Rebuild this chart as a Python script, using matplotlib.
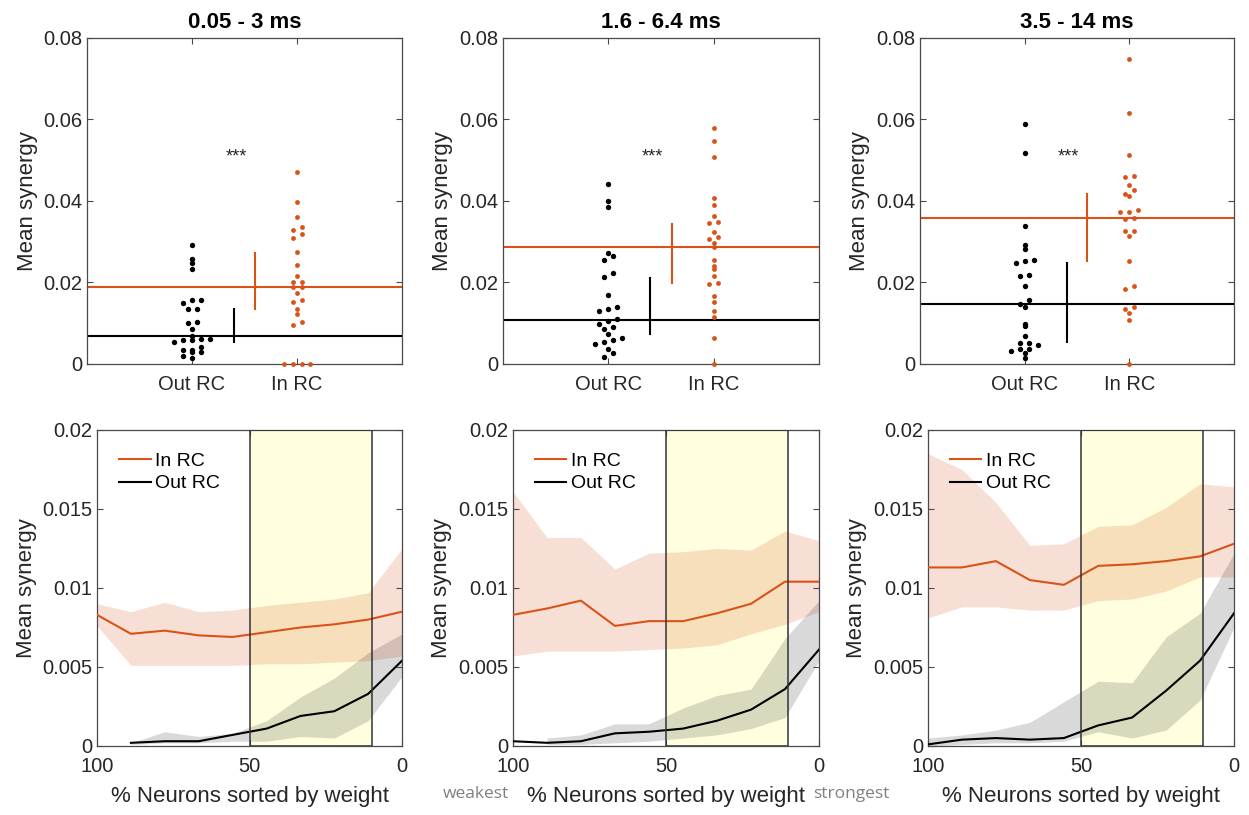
import numpy as np
import matplotlib
matplotlib.use('Agg')
import matplotlib.pyplot as plt
from matplotlib.patches import Rectangle

plt.rcParams['font.family'] = ['Liberation Sans', 'DejaVu Sans']

# ---------------- data ----------------
titles = ['0.05 - 3 ms', '1.6 - 6.4 ms', '3.5 - 14 ms']
groups = ['Out RC', 'In RC']

out_vals = [
    [0.0291, 0.0258, 0.0249, 0.0233, 0.0158, 0.0157, 0.0149, 0.0136, 0.0134, 0.0102,
     0.0100, 0.0087, 0.0068, 0.0061, 0.0061, 0.0060, 0.0060, 0.0055, 0.0041, 0.0035,
     0.0034, 0.0029, 0.0029, 0.0020, 0.0014],
    [0.0442, 0.0400, 0.0385, 0.0272, 0.0265, 0.0256, 0.0223, 0.0213, 0.0170, 0.0140,
     0.0136, 0.0130, 0.0110, 0.0106, 0.0098, 0.0090, 0.0087, 0.0073, 0.0063, 0.0059,
     0.0054, 0.0050, 0.0036, 0.0026, 0.0016],
    [0.0588, 0.0518, 0.0338, 0.0293, 0.0281, 0.0254, 0.0252, 0.0249, 0.0218, 0.0215,
     0.0192, 0.0156, 0.0147, 0.0139, 0.0097, 0.0093, 0.0068, 0.0052, 0.0051, 0.0046,
     0.0036, 0.0036, 0.0032, 0.0028, 0.0015],
]
in_vals = [
    [0.0470, 0.0398, 0.0361, 0.0335, 0.0330, 0.0318, 0.0308, 0.0275, 0.0242, 0.0216,
     0.0202, 0.0201, 0.0190, 0.0188, 0.0173, 0.0158, 0.0152, 0.0136, 0.0123, 0.0102,
     0.0096, 0.0, 0.0, 0.0, 0.0],
    [0.0578, 0.0547, 0.0508, 0.0407, 0.0389, 0.0364, 0.0349, 0.0345, 0.0323, 0.0311,
     0.0306, 0.0296, 0.0287, 0.0256, 0.0240, 0.0233, 0.0217, 0.0198, 0.0197, 0.0167,
     0.0153, 0.0129, 0.0116, 0.0063, 0.0],
    [0.0749, 0.0615, 0.0513, 0.0461, 0.0458, 0.0438, 0.0426, 0.0416, 0.0412, 0.0378,
     0.0374, 0.0372, 0.0359, 0.0356, 0.0326, 0.0326, 0.0313, 0.0252, 0.0191, 0.0185,
     0.0139, 0.0136, 0.0126, 0.0108, 0.0],
]
out_center = [0.0068, 0.0109, 0.0147]
out_err_lo = [0.0055, 0.0074, 0.0053]
out_err_hi = [0.0135, 0.0212, 0.0247]
in_center = [0.0190, 0.0287, 0.0359]
in_err_lo = [0.0136, 0.0198, 0.0253]
in_err_hi = [0.0273, 0.0344, 0.0416]
top_yticks = [0, 0.02, 0.04, 0.06, 0.08]
top_yticklabels = ['0', '0.02', '0.04', '0.06', '0.08']

pct = [100, 88.9, 77.8, 66.7, 55.6, 44.4, 33.3, 22.2, 11.1, 0]
nan = np.nan
in_mean = [
    [0.0083, 0.0071, 0.0073, 0.0070, 0.0069, 0.0072, 0.0075, 0.0077, 0.0080, 0.0085],
    [0.0083, 0.0087, 0.0092, 0.0076, 0.0079, 0.0079, 0.0084, 0.0090, 0.0104, 0.0104],
    [0.0113, 0.0113, 0.0117, 0.0105, 0.0102, 0.0114, 0.0115, 0.0117, 0.0120, 0.0128],
]
in_hi = [
    [0.0090, 0.0085, 0.0091, 0.0085, 0.0086, 0.0089, 0.0091, 0.0093, 0.0097, 0.0125],
    [0.0161, 0.0132, 0.0132, 0.0112, 0.0122, 0.0123, 0.0125, 0.0124, 0.0136, 0.0130],
    [0.0185, 0.0175, 0.0154, 0.0127, 0.0128, 0.0139, 0.0140, 0.0151, 0.0166, 0.0164],
]
in_lo = [
    [0.0076, 0.0051, 0.0051, 0.0051, 0.0051, 0.0052, 0.0052, 0.0053, 0.0054, 0.0057],
    [0.0057, 0.0060, 0.0060, 0.0060, 0.0061, 0.0062, 0.0064, 0.0071, 0.0077, 0.0085],
    [0.0081, 0.0088, 0.0088, 0.0086, 0.0086, 0.0092, 0.0093, 0.0098, 0.0107, 0.0107],
]
out_mean = [
    [nan, 0.0002, 0.0003, 0.0003, 0.0007, 0.0011, 0.0019, 0.0022, 0.0033, 0.0054],
    [0.0003, 0.0002, 0.0003, 0.0008, 0.0009, 0.0011, 0.0016, 0.0023, 0.0036, 0.0061],
    [0.0001, 0.0004, 0.0005, 0.0004, 0.0005, 0.0013, 0.0018, 0.0035, 0.0054, 0.0084],
]
out_hi = [
    [nan, 0.0002, 0.0009, 0.0006, 0.0008, 0.0016, 0.0031, 0.0043, 0.0059, 0.0071],
    [nan, 0.0005, 0.0007, 0.0014, 0.0014, 0.0024, 0.0032, 0.0036, 0.0068, 0.0092],
    [0.0005, 0.0007, 0.0010, 0.0015, 0.0028, 0.0041, 0.0040, 0.0069, 0.0084, 0.0122],
]
out_lo = [
    [nan, 0.0001, 0.0002, 0.0002, 0.0003, 0.0003, 0.0006, 0.0005, 0.0016, 0.0044],
    [nan, 0.0001, 0.0001, 0.0002, 0.0003, 0.0005, 0.0007, 0.0011, 0.0018, 0.0054],
    [0.0000, 0.0001, 0.0002, 0.0002, 0.0003, 0.0009, 0.0005, 0.0010, 0.0029, 0.0075],
]
highlight_range = (10, 50)
bot_yticks = [0, 0.005, 0.01, 0.015, 0.02]
bot_yticklabels = ['0', '0.005', '0.01', '0.015', '0.02']
bot_xticks = [100, 50, 0]
bot_xticklabels = ['100', '50', '0']

# ---------------- style ----------------
ORANGE = '#D95319'
BLACK = '#000000'
SPINE = '#4a4a4a'
TXT = '#262626'


def style_axes(ax):
    for s in ax.spines.values():
        s.set_color(SPINE)
        s.set_linewidth(0.9)
    ax.tick_params(direction='in', top=True, right=True, length=4, width=0.8,
                   color=SPINE, labelsize=14.5, labelcolor=TXT)
    ax.tick_params(axis='x', pad=8)
    ax.tick_params(axis='y', pad=3.5)


def swarm(vals, center, binw=0.0016, d=0.085):
    v = np.asarray(vals, float)
    x = np.full(len(v), float(center))
    b = np.floor(v / binw + 1e-9).astype(int)
    for k in np.unique(b):
        idx = np.where(b == k)[0]
        idx = idx[np.argsort(v[idx])]
        n = len(idx)
        x[idx] = center + (np.arange(n) - (n - 1) / 2) * d
    return x


fig = plt.figure(figsize=(12.49, 8.15), dpi=100)

top_pos = [[0.0697, 0.5534, 0.2522, 0.4], [0.4027, 0.5534, 0.253, 0.4],
           [0.7366, 0.5534, 0.2514, 0.4]]
bot_pos = [[0.0777, 0.0847, 0.2442, 0.3877], [0.4107, 0.0847, 0.245, 0.3877],
           [0.743, 0.0847, 0.245, 0.3877]]

for i in range(3):
    ax = fig.add_axes(top_pos[i])
    style_axes(ax)
    ax.axhline(in_center[i], color=ORANGE, lw=1.5, zorder=2)
    ax.axhline(out_center[i], color=BLACK, lw=1.5, zorder=2)
    ax.plot([1.6, 1.6], [in_err_lo[i], in_err_hi[i]], color=ORANGE, lw=1.5, zorder=2)
    ax.plot([1.4, 1.4], [out_err_lo[i], out_err_hi[i]], color=BLACK, lw=1.5, zorder=2)
    ax.scatter(swarm(out_vals[i], 1), out_vals[i], s=15, color=BLACK, lw=0, zorder=3)
    ax.scatter(swarm(in_vals[i], 2), in_vals[i], s=12, color=ORANGE, lw=0, zorder=3,
               clip_on=False)
    ax.text(1.42, 0.0508, '***', ha='center', va='center', fontsize=13, color=TXT)
    ax.set_xlim(0, 3)
    ax.set_ylim(0, 0.08)
    ax.set_xticks([1, 2])
    ax.set_xticklabels(groups)
    ax.set_yticks(top_yticks)
    ax.set_yticklabels(top_yticklabels)
    ax.set_ylabel('Mean synergy', fontsize=16, color=TXT, labelpad=4)
    ax.set_title(titles[i], fontsize=16, fontweight='bold', pad=7)

for i in range(3):
    ax = fig.add_axes(bot_pos[i])
    style_axes(ax)
    ax.axvspan(highlight_range[0], highlight_range[1], facecolor='#FFFFE0',
               edgecolor='none', zorder=0.5)
    ax.fill_between(pct, in_lo[i], in_hi[i], color=ORANGE, alpha=0.18, lw=0, zorder=1)
    ax.fill_between(pct, out_lo[i], out_hi[i], color='k', alpha=0.15, lw=0, zorder=1)
    l_in, = ax.plot(pct, in_mean[i], color=ORANGE, lw=1.5, zorder=3)
    l_out, = ax.plot(pct, out_mean[i], color=BLACK, lw=1.5, zorder=3)
    ax.add_patch(Rectangle((highlight_range[0], 0), highlight_range[1] - highlight_range[0],
                           0.02, fill=False, edgecolor='#333333', lw=1.1, zorder=4))
    ax.set_xlim(100, 0)
    ax.set_ylim(0, 0.02)
    ax.set_xticks(bot_xticks)
    ax.set_xticklabels(bot_xticklabels)
    ax.set_yticks(bot_yticks)
    ax.set_yticklabels(bot_yticklabels)
    ax.set_ylabel('Mean synergy', fontsize=16, color=TXT, labelpad=4)
    ax.set_xlabel('% Neurons sorted by weight', fontsize=16, color=TXT, labelpad=7)
    ax.legend([l_in, l_out], ['In RC', 'Out RC'], loc='upper left', frameon=False,
              fontsize=14, handlelength=1.6, handletextpad=0.25, labelspacing=0.25,
              borderaxespad=0.75)

fig.text(443 / 1249, 1 - 798 / 815, 'weakest', fontsize=12.5, color='#808080',
         family=['Open Sans', 'DejaVu Sans'], va='baseline', ha='left')
fig.text(813 / 1249, 1 - 798 / 815, 'strongest', fontsize=12.5, color='#808080',
         family=['Open Sans', 'DejaVu Sans'], va='baseline', ha='left')

fig.savefig('out.png', dpi=100)
